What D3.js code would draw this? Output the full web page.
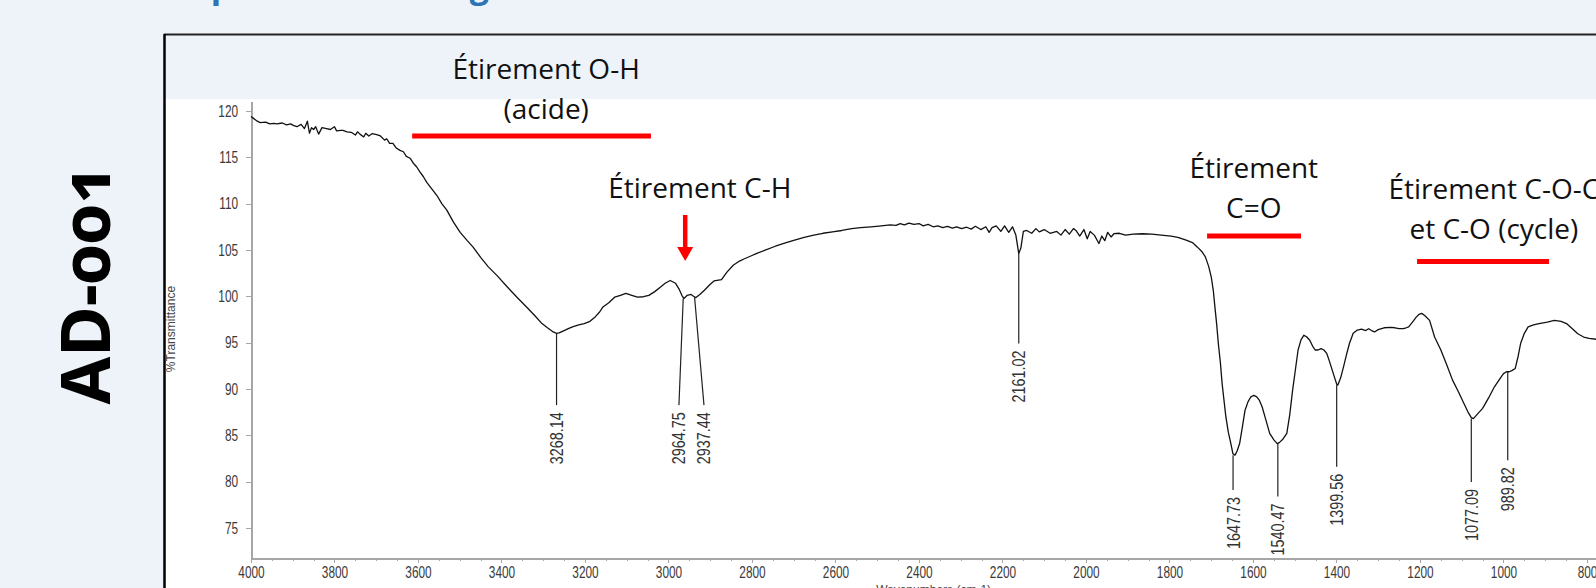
<!DOCTYPE html>
<html lang="fr">
<head>
  <meta charset="UTF-8">
  <title>AD-001 - Spectre IR</title>
  <script src="https://d3js.org/d3.v7.min.js"></script>
  <style>
    body {
      margin: 0;
      background: #eef3fa;
      overflow: hidden;
    }
    svg {
      display: block;
    }
    .tick text {
      font-family: "Liberation Sans", Arial, sans-serif;
      font-size: 16px;
      fill: #3a3a3a;
      transform-box: fill-box;
    }
    .y-axis .tick text {
      transform-origin: right center;
      transform: scaleX(0.74);
    }
    .x-axis .tick text {
      transform-origin: center center;
      transform: scaleX(0.74);
    }
    .axis path,
    .axis line {
      stroke: #a6a6a6;
      shape-rendering: crispEdges;
    }
    .note {
      font-family: "Open Sans", sans-serif;
      font-size: 28px;
      fill: #111;
    }
  </style>
</head>
<body>
  <svg width="1596" height="588"></svg>

  <script>
    // spectrum (cm-1, %T)
    const wavenumbers = [
      4000, 3994, 3985, 3978, 3965, 3955, 3945, 3938, 3925, 3915, 3905, 3899, 3890, 3880, 3872, 3865,
      3860, 3855, 3850, 3845, 3838, 3830, 3819, 3810, 3800, 3795, 3785, 3780, 3770, 3760, 3750, 3745,
      3739, 3730, 3725, 3718, 3710, 3699, 3690, 3680, 3675, 3668, 3660, 3652, 3643, 3635, 3628, 3619,
      3610, 3603, 3595, 3587, 3579, 3567, 3555, 3543, 3531, 3515, 3499, 3482, 3468, 3450, 3432, 3410,
      3386, 3363, 3340, 3320, 3303, 3290, 3276, 3268, 3262, 3250, 3240, 3230, 3215, 3202, 3188, 3175,
      3165, 3157, 3143, 3129, 3115, 3102, 3088, 3074, 3060, 3047, 3033, 3019, 3008, 2996, 2983, 2975,
      2968, 2963, 2955, 2946, 2940, 2935, 2925, 2914, 2900, 2891, 2880, 2873, 2860, 2845, 2830, 2818,
      2800, 2790, 2770, 2744, 2720, 2698, 2675, 2652, 2630, 2607, 2585, 2561, 2540, 2515, 2490, 2469,
      2455, 2445, 2435, 2424, 2412, 2400, 2390, 2378, 2366, 2355, 2343, 2332, 2320, 2310, 2298, 2286,
      2275, 2265, 2252, 2240, 2232, 2225, 2215, 2204, 2195, 2185, 2176,
      2168, 2161, 2156, 2150, 2142, 2130, 2120, 2112, 2100, 2086, 2070, 2060, 2050, 2040, 2030, 2024,
      2015, 2005, 1997, 1990, 1980, 1969, 1962, 1955, 1948, 1940, 1933, 1920, 1905, 1887, 1865, 1842,
      1820, 1796, 1780, 1760, 1745, 1733, 1722, 1714, 1706, 1700, 1695, 1692, 1687, 1683, 1678, 1674,
      1669, 1665, 1659, 1653, 1648, 1643, 1638, 1632, 1625, 1619, 1612, 1605, 1598, 1591, 1585, 1578,
      1570, 1560, 1550, 1542, 1537, 1528, 1519, 1512, 1505, 1498, 1492, 1485, 1478, 1471, 1464, 1457,
      1451, 1444, 1437, 1430, 1423, 1417, 1410, 1403, 1399, 1397, 1390, 1383, 1376, 1369, 1360, 1350,
      1340, 1330, 1323, 1316, 1309, 1300, 1286, 1270, 1260, 1250, 1240, 1233, 1227, 1218, 1209, 1202,
      1196, 1188, 1177, 1165, 1150, 1136, 1122, 1108, 1095, 1085, 1077, 1072, 1062, 1050, 1036, 1022,
      1010, 1000, 993, 986, 979, 972, 965, 959, 950, 941, 928, 915, 895, 878, 862, 849,
      835, 822, 808, 795, 776
    ];
    const transmittance = [
      119.4, 119.2, 118.9, 118.75, 118.8, 118.6, 118.65, 118.6, 118.7, 118.5, 118.6, 118.45, 118.3, 118.55, 118.1, 118.9,
      117.6, 118.2, 118.0, 118.3, 117.5, 118.2, 118.1, 118.0, 118.3, 117.85, 117.9, 117.9, 117.75, 117.7, 117.4, 117.75,
      117.5, 117.2, 117.6, 117.3, 117.55, 117.45, 117.3, 116.85, 117.0, 116.5, 116.5, 116.0, 115.75, 115.6, 115.1, 114.9,
      114.3, 113.95, 113.4, 112.9, 112.3, 111.6, 110.9, 110.0, 109.3, 108.0, 106.9, 106.0, 105.3, 104.2, 103.2, 102.2,
      101.0, 99.9, 98.85, 97.9, 97.05, 96.6, 96.15, 96.0, 96.05, 96.3, 96.5, 96.7, 96.9, 97.05, 97.3, 97.8,
      98.3, 98.85, 99.3, 99.9, 100.1, 100.3, 100.1, 99.9, 99.95, 100.1, 100.5, 101.0, 101.4, 101.7, 101.4, 100.8,
      100.1, 99.75, 100.1, 100.2, 100.0, 99.85, 100.2, 100.65, 101.3, 101.65, 101.75, 101.8, 102.6, 103.35, 103.8, 104.05,
      104.4, 104.6, 104.95, 105.4, 105.75, 106.05, 106.35, 106.6, 106.8, 106.95, 107.1, 107.3, 107.4, 107.5, 107.6, 107.7,
      107.65, 107.85, 107.7, 107.9, 107.75, 107.85, 107.6, 107.75, 107.5, 107.6, 107.4, 107.55, 107.35, 107.5, 107.3, 107.45,
      107.25, 107.55, 107.2, 107.5, 106.9, 107.4, 107.6, 107.0, 107.6, 106.9, 107.5,
      106.6, 104.6, 105.2, 107.0, 107.1, 106.8, 107.3, 106.95, 107.2, 106.8, 107.0, 106.6, 107.2, 106.7, 107.3, 107.1,
      106.5, 107.2, 106.2, 107.0, 106.6, 105.7, 106.5, 106.0, 106.9, 106.4, 106.75, 106.8, 106.6, 106.7, 106.75, 106.7,
      106.6, 106.5, 106.35, 106.05, 105.8, 105.3, 104.8, 104.25, 103.2, 102.1, 100.6, 99.2, 97.0, 94.9, 92.8, 90.6,
      88.6, 87.0, 85.3, 84.1, 83.0, 82.85, 83.3, 84.1, 86.0, 87.7, 88.6, 89.15, 89.3, 89.15, 88.8, 88.05,
      86.8, 85.2, 84.5, 84.1, 84.2, 84.6, 85.2, 87.2, 89.9, 92.2, 94.2, 95.3, 95.8, 95.6, 95.25, 94.6,
      94.2, 94.2, 94.35, 94.2, 93.8, 93.0, 92.0, 91.0, 90.45, 90.4, 91.2, 92.4, 93.7, 94.9, 96.0, 96.35,
      96.45, 96.3, 96.5, 96.3, 96.15, 96.4, 96.6, 96.65, 96.6, 96.5, 96.5, 96.6, 96.7, 97.2, 97.75, 98.05,
      98.15, 97.9, 97.4, 95.6, 94.2, 92.6, 90.95, 89.7, 88.45, 87.5, 86.9, 86.8, 87.3, 87.9, 89.0, 90.2,
      91.0, 91.65, 91.85, 91.85, 92.0, 92.2, 93.5, 94.9, 96.0, 96.7, 96.9, 97.05, 97.2, 97.4, 97.3, 97.05,
      96.5, 95.95, 95.6, 95.45, 95.35
    ];

    // peak picks
    const peakWn = [3268.14, 2964.75, 2937.44, 2161.02, 1647.73, 1540.47, 1399.56, 1077.09, 989.82];
    const peakLabelWn = [3268.14, 2975, 2915, 2161.02, 1647.73, 1540.47, 1399.56, 1077.09, 989.82];
    const peakT = [96.0, 99.75, 99.85, 104.6, 82.85, 84.1, 90.4, 86.8, 91.85];
    const peakLineEndT = [88.25, 88.25, 88.25, 94.9, 79.1, 78.4, 81.6, 79.95, 82.3];

    const yTicks = [75, 80, 85, 90, 95, 100, 105, 110, 115, 120];
    const xTicks = [4000, 3800, 3600, 3400, 3200, 3000, 2800, 2600, 2400, 2200, 2000, 1800, 1600, 1400, 1200, 1000, 800];

    // band annotations
    const noteLines = [["Étirement O-H", "(acide)"], ["Étirement C-H"], ["Étirement", "C=O"], ["Étirement C-O-C", "et C-O (cycle)"]];
    const noteCenterWn = [3293, 2925, 1598, 1023];
    const bandFrom = [3614, null, 1710, 1207];
    const bandTo = [3042, null, 1485, 891];
    const arrowWn = 2960;

    const svg = d3.select("svg");

    // slide-ish background + framed panel
    svg.append("text")
      .attr("x", 192)
      .attr("y", -2)
      .style("font-family", "'Open Sans', sans-serif")
      .style("font-weight", "bold")
      .style("font-size", "34px")
      .style("fill", "#2e74b5")
      .text("Spectre infrarouge");

    svg.append("rect")
      .attr("x", 165).attr("y", 99)
      .attr("width", 1431).attr("height", 489)
      .attr("fill", "#fff");

    svg.append("line")
      .attr("x1", 164).attr("x2", 1596)
      .attr("y1", 34.5).attr("y2", 34.5)
      .attr("stroke", "#222").attr("stroke-width", 2);
    svg.append("line")
      .attr("x1", 164.5).attr("x2", 164.5)
      .attr("y1", 34).attr("y2", 588)
      .attr("stroke", "#000").attr("stroke-width", 2.5);

    svg.append("text")
      .attr("transform", "translate(110,284) rotate(-90)")
      .attr("text-anchor", "middle")
      .style("font-family", "'Noto Sans', sans-serif")
      .style("font-weight", "bold")
      .style("font-size", "69px")
      .style("font-variant-numeric", "oldstyle-nums")
      .style("fill", "#000")
      .text("AD-001");

    // scales
    const x = d3.scaleLinear().domain([4000, 776]).range([251, 1597]);
    const y = d3.scaleLinear().domain([71.75, 121]).range([558, 101.7]);

    // axes
    svg.append("g")
      .attr("class", "axis y-axis")
      .attr("transform", "translate(251,0)")
      .call(d3.axisLeft(y).tickValues(yTicks).tickSize(5).tickSizeOuter(0).tickPadding(8))
      .call(g => g.select(".domain").attr("stroke-width", 2));

    svg.append("g")
      .attr("class", "axis")
      .attr("transform", "translate(0,558)")
      .call(d3.axisBottom(x).tickValues(d3.range(4000, 750, -50)).tickSize(3).tickFormat(""))
      .call(g => g.select(".domain").remove());

    svg.append("g")
      .attr("class", "axis x-axis")
      .attr("transform", "translate(0,558)")
      .call(d3.axisBottom(x).tickValues(xTicks).tickFormat(d3.format("d")).tickSize(5).tickSizeOuter(0).tickPadding(4))
      .call(g => g.select(".domain").attr("stroke-width", 2));

    svg.append("text")
      .attr("transform", "translate(175,329) rotate(-90)")
      .attr("text-anchor", "middle")
      .style("font-family", "'Liberation Sans', Arial, sans-serif")
      .style("font-size", "12px")
      .style("fill", "#444")
      .text("%Transmittance");

    svg.append("text")
      .attr("x", x(2365))
      .attr("y", 594)
      .attr("text-anchor", "middle")
      .style("font-family", "'Liberation Sans', Arial, sans-serif")
      .style("font-size", "12px")
      .style("fill", "#444")
      .text("Wavenumbers (cm-1)");

    // spectrum
    const spectrum = wavenumbers.map((w, i) => [w, transmittance[i]]);
    svg.append("path")
      .datum(spectrum)
      .attr("fill", "none")
      .attr("stroke", "#111")
      .attr("stroke-width", 1.3)
      .attr("stroke-linejoin", "round")
      .attr("d", d3.line().x(d => x(d[0])).y(d => y(d[1])));

    // peak markers
    const peaks = svg.append("g");
    peakWn.forEach((w, i) => {
      const xl = x(peakLabelWn[i]);
      const yEnd = y(peakLineEndT[i]);
      peaks.append("line")
        .attr("x1", x(w)).attr("y1", y(peakT[i]))
        .attr("x2", xl).attr("y2", yEnd)
        .attr("stroke", "#222").attr("stroke-width", 1.2);
      peaks.append("text")
        .attr("transform", `translate(${xl + 6.5},${yEnd + 7}) rotate(-90) scale(0.8,1)`)
        .attr("text-anchor", "end")
        .style("font-family", "'Liberation Sans', Arial, sans-serif")
        .style("font-size", "18px")
        .style("fill", "#333")
        .text(peakWn[i].toFixed(2));
    });

    // annotations
    const noteBaseline = [79, 198, 178, 199];
    const bandY = [136, null, 236, 261.5];
    noteLines.forEach((lines, i) => {
      lines.forEach((t, j) => {
        svg.append("text")
          .attr("class", "note")
          .attr("x", x(noteCenterWn[i]))
          .attr("y", noteBaseline[i] + j * 40)
          .attr("text-anchor", "middle")
          .text(t);
      });
      if (bandFrom[i] !== null) {
        svg.append("line")
          .attr("x1", x(bandFrom[i])).attr("x2", x(bandTo[i]))
          .attr("y1", bandY[i]).attr("y2", bandY[i])
          .attr("stroke", "#ff0000").attr("stroke-width", 5);
      }
    });

    // arrow for C-H
    const ax = x(arrowWn);
    svg.append("line")
      .attr("x1", ax).attr("x2", ax)
      .attr("y1", 215).attr("y2", 248)
      .attr("stroke", "#ff0000").attr("stroke-width", 4.5);
    svg.append("path")
      .attr("d", `M${ax - 8},247 L${ax + 8},247 L${ax},261 Z`)
      .attr("fill", "#ff0000");
  </script>
</body>
</html>
